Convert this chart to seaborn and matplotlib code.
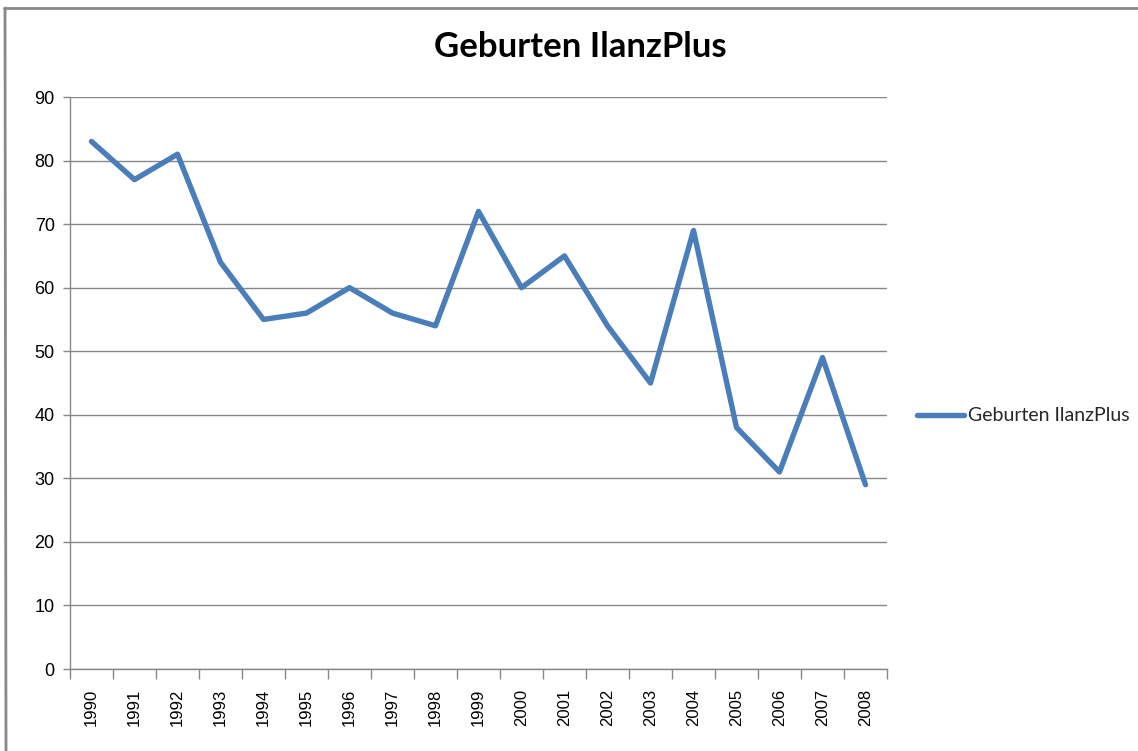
import matplotlib
matplotlib.use("Agg")
import matplotlib.pyplot as plt
import seaborn as sns
import pandas as pd
from matplotlib.lines import Line2D
from matplotlib.ticker import FixedLocator

years = list(range(1990, 2009))
births = [83, 77, 81, 64, 55, 56, 60, 56, 54, 72, 60, 65, 54, 45, 69, 38, 31, 49, 29]
series_name = "Geburten IlanzPlus"
title = "Geburten IlanzPlus"
yticks = list(range(0, 91, 10))

sns.set_theme(style="white")
plt.rcParams['font.family'] = ['Liberation Sans', 'DejaVu Sans']

df = pd.DataFrame({"Jahr": years, "Geburten": births, "Serie": series_name})

fig = plt.figure(figsize=(11.38, 7.51), dpi=100)
ax = fig.add_axes([70/1138, 1-669/751, (887-70)/1138, (669-97)/751])

line_color = "#4A7EBB"
sns.lineplot(data=df, x="Jahr", y="Geburten", color=line_color, linewidth=3.9,
             ax=ax, label=series_name, legend=False)

ax.set_xlim(1989.5, 2008.5)
ax.set_ylim(0, 90)
ax.set_yticks(yticks)
ax.set_xticks(years)
ax.set_xticklabels([str(y) for y in years], rotation=90, fontsize=12, color="#000000")
ax.xaxis.set_minor_locator(FixedLocator([y + 0.5 for y in range(1989, 2009)]))
ax.tick_params(axis="x", which="major", length=0, pad=14)
ax.tick_params(axis="x", which="minor", length=7, width=1, color="#888888", direction="out", bottom=True)
ax.tick_params(axis="y", length=5, width=1, color="#888888", direction="out", left=True, labelsize=13, pad=6)
for lab in ax.get_yticklabels():
    lab.set_color("#000000")
ax.grid(axis="y", color="#888888", linewidth=1)
ax.grid(axis="x", visible=False)
ax.set_axisbelow(True)
for s in ["top", "right"]:
    ax.spines[s].set_visible(False)
ax.spines["left"].set_color("#888888")
ax.spines["bottom"].set_color("#888888")
ax.spines["left"].set_linewidth(1)
ax.spines["bottom"].set_linewidth(1)
ax.set_xlabel("")
ax.set_ylabel("")

fig.text(580/1138, 1-47/751, title, ha="center", va="center", fontsize=25,
         fontweight="bold", family=["Lato", "DejaVu Sans"], color="#000000")

handle = Line2D([], [], color=line_color, linewidth=3.9)
fig.legend([handle], [series_name], loc="center left",
           bbox_to_anchor=(917/1138, 1-416/751), frameon=False,
           prop={"family": ["Lato", "DejaVu Sans"], "size": 14},
           handlelength=2.4, handletextpad=0.2, borderaxespad=0, borderpad=0)

# outer chart border (top and left edges)
fig.add_artist(Line2D([4/1138, 1.01], [1-8/751, 1-8/751], transform=fig.transFigure,
                      color="#888888", linewidth=2))
fig.add_artist(Line2D([5/1138, 6/1138], [1-8/751, 0], transform=fig.transFigure,
                      color="#888888", linewidth=2))

fig.savefig("out.png", dpi=100)
